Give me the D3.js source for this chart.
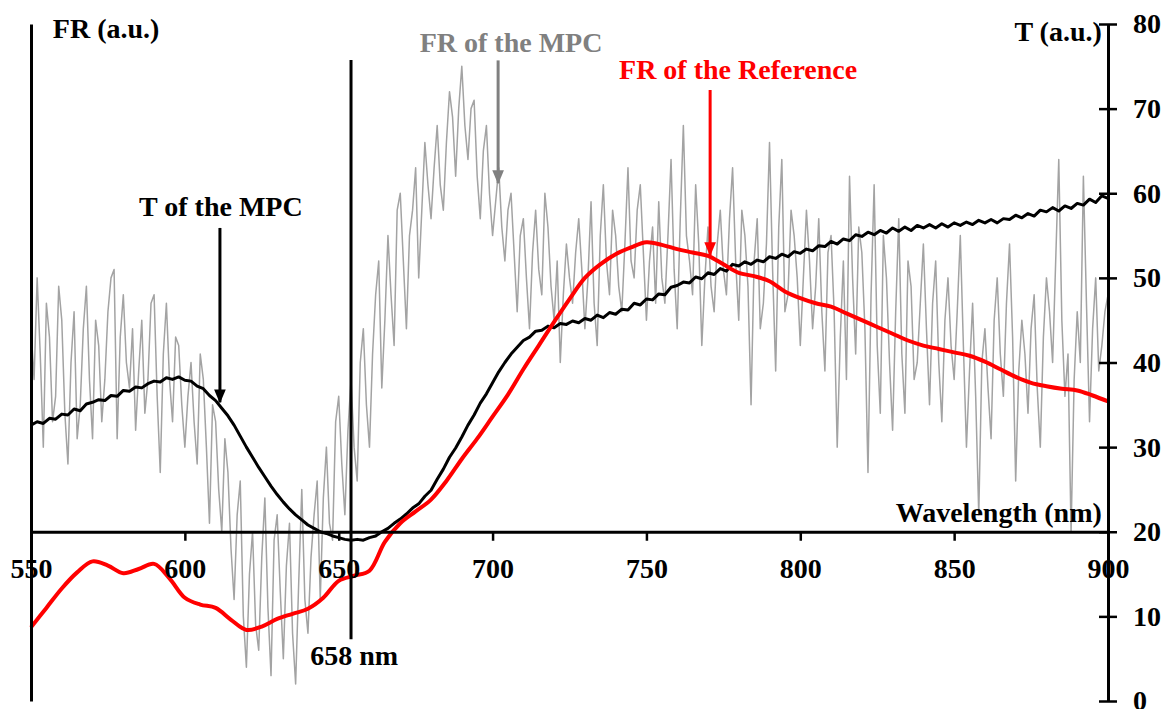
<!DOCTYPE html>
<html>
<head>
<meta charset="utf-8">
<script src="https://cdn.jsdelivr.net/npm/d3@7"></script>
<style>
  html, body { margin: 0; padding: 0; background: #fff; }
  svg { display: block; font-family: "Liberation Serif", "Times New Roman", serif; font-weight: bold; }
</style>
</head>
<body>
<div id="chart"></div>
<script>
// FR / T spectra of the MPC vs reference

// --- data ---
// FR of the MPC, every 1 nm from 550 to 900 (left axis, a.u.), one row per 10 nm
const FR_MPC_NM = d3.range(550, 901, 1);
const FR_MPC = [
  44, 38, 50, 41, 30, 47, 43, 33, 36, 49,
  45, 34, 28, 40, 46, 31, 35, 44, 49, 38,
  31, 45, 42, 33, 38, 46, 50, 51, 31, 43,
  48, 40, 37, 44, 32, 39, 45, 34, 38, 47,
  48, 36, 27, 41, 47, 38, 33, 43, 42, 35,
  30, 36, 40, 33, 28, 41, 38, 30, 21, 35,
  33, 25, 20, 31, 27, 18, 12, 22, 26, 10,
  4, 15, 20, 9, 6, 17, 24, 11, 3, 19,
  22, 13, 5, 16, 21, 8, 2, 14, 25, 12,
  8, 17, 22, 26, 12, 24, 30, 21, 19, 33,
  36, 28, 22, 32, 38, 30, 26, 40, 44, 35,
  30, 41, 48, 52, 37, 45, 55, 48, 42, 58,
  60, 52, 44, 55, 58, 63, 50, 58, 66, 61,
  57, 63, 68, 61, 58, 66, 72, 69, 62, 70,
  75, 68, 64, 70, 71, 62, 57, 65, 68, 60,
  55, 59, 63, 56, 52, 58, 60, 53, 46, 55,
  57, 50, 44, 53, 58, 51, 48, 60, 56, 49,
  45, 52, 40, 48, 54, 50, 47, 53, 57, 51,
  44, 50, 59, 47, 42, 55, 61, 52, 48, 58,
  55, 49, 46, 54, 63, 52, 50, 58, 61, 53,
  45, 52, 56, 47, 59, 50, 47, 55, 64, 51,
  44, 57, 68, 55, 52, 48, 61, 54, 42, 50,
  56, 49, 46, 54, 58, 51, 48, 57, 63, 52,
  45, 58, 55, 49, 35, 52, 57, 44, 47, 54,
  66, 51, 39, 56, 64, 46, 48, 58, 55, 50,
  42, 50, 58, 52, 44, 49, 57, 46, 39, 53,
  55, 46, 30, 43, 52, 38, 62, 50, 41, 56,
  53, 44, 27, 48, 61, 42, 34, 55, 50, 40,
  32, 46, 57, 41, 34, 52, 49, 38, 40, 47,
  54, 44, 35, 47, 52, 40, 33, 45, 50, 42,
  38, 46, 55, 42, 30, 39, 47, 36, 22, 40,
  44, 37, 31, 45, 50, 41, 36, 47, 54, 43,
  26, 39, 45, 41, 34, 44, 48, 37, 30, 43,
  50, 46, 40, 52, 64, 45, 36, 41, 20, 38,
  46, 40, 62, 47, 33, 44, 50, 39, 42, 46,
  48
];

// T of the MPC, every 2 nm (right axis), one row per 20 nm
const T_NM = d3.range(550, 901, 2);
const T_MPC = [
  32.6, 33.0, 32.8, 33.4, 33.3, 33.9, 33.8, 34.5, 34.3, 35.1,
  35.3, 35.6, 35.5, 36.1, 36.0, 36.7, 36.6, 37.1, 37.0, 37.5,
  37.8, 37.7, 38.2, 38.0, 38.3, 37.9, 37.8, 37.2, 36.9, 36.1,
  35.5, 34.6, 33.7, 32.6, 31.3, 30.0, 28.8, 27.6, 26.5, 25.4,
  24.4, 23.5, 22.7, 22.0, 21.4, 20.8, 20.4, 20.0, 19.8, 19.5,
  19.3, 19.1, 19.0, 19.1, 19.0, 19.3, 19.5, 20.0, 20.4, 21.0,
  21.5, 22.1, 22.8, 23.3, 24.2, 24.9, 26.2, 27.4, 28.8, 29.9,
  31.2, 32.6, 33.8, 35.2, 36.3, 37.6, 38.9, 40.0, 41.0, 41.8,
  42.6, 43.0, 43.7, 43.8, 44.3, 44.1, 44.6, 44.5, 44.9, 44.7,
  45.2, 45.0, 45.6, 45.3, 45.9, 45.7, 46.3, 46.2, 47.0, 46.8,
  47.5, 47.4, 48.1, 48.0, 48.9, 49.1, 49.5, 49.4, 50.1, 49.9,
  50.6, 50.4, 51.1, 50.8, 51.6, 51.4, 51.9, 51.6, 52.1, 51.9,
  52.5, 52.3, 52.8, 52.5, 53.1, 52.9, 53.4, 53.2, 53.8, 53.7,
  54.3, 54.0, 54.6, 54.4, 55.1, 54.9, 55.4, 55.1, 55.6, 55.3,
  55.9, 55.5, 56.0, 55.6, 56.2, 55.9, 56.3, 55.9, 56.4, 56.0,
  56.5, 56.2, 56.6, 56.3, 56.8, 56.5, 56.9, 56.5, 57.0, 56.9,
  57.4, 57.1, 57.6, 57.3, 58.0, 57.8, 58.3, 57.9, 58.5, 58.2,
  58.8, 58.6, 59.3, 58.9, 59.7, 59.4
];

// FR of the reference, every 5 nm (left axis)
const REF_NM = d3.range(550, 901, 5);
const FR_REF = [
  8.7, 11.0, 13.3, 15.2, 16.5, 16.0, 15.1, 15.6, 16.2, 14.5,
  12.2, 11.4, 11.0, 9.6, 8.4, 8.8, 9.7, 10.3, 10.9, 12.2,
  14.2, 14.8, 15.4, 18.8, 21.0, 22.4, 23.8, 26.0, 28.6, 31.0,
  33.6, 36.2, 39.2, 42.0, 44.8, 47.5, 50.0, 51.6, 52.8, 53.6,
  54.2, 53.9, 53.4, 53.0, 52.6, 51.6, 50.6, 50.2, 49.6, 48.4,
  47.6, 47.0, 46.6, 45.8, 45.0, 44.2, 43.4, 42.6, 42.0, 41.6,
  41.2, 40.8, 40.1, 39.2, 38.3, 37.6, 37.2, 36.9, 36.7, 36.1,
  35.4
];

const X_TICKS = [550, 600, 650, 700, 750, 800, 850, 900];
const T_TICKS = [0, 10, 20, 30, 40, 50, 60, 70, 80];
const X_AXIS_AT = 20;          // wavelength axis crosses T = 20
const MARK_NM = 654;           // drawn position of the "658 nm" line

// annotation placement (data units)
const LABELS = [
  { text: 'FR (a.u.)',           nm: 557.1, v: 78.3, anchor: 'start',  color: '#000' },
  { text: 'T (a.u.)',            nm: 898,   v: 78.0, anchor: 'end',    color: '#000' },
  { text: 'T of the MPC',        nm: 611.7, v: 57.3, anchor: 'middle', color: '#000' },
  { text: 'FR of the MPC',       nm: 706,   v: 76.7, anchor: 'middle', color: '#808080' },
  { text: 'FR of the Reference', nm: 779.8, v: 73.5, anchor: 'middle', color: '#ff0000' },
  { text: 'Wavelength (nm)',     nm: 898,   v: 21.2, anchor: 'end',    color: '#000' },
  { text: '658 nm',              nm: 655,   v: 4.3,  anchor: 'middle', color: '#000' },
];
const ARROWS = [
  { id: 'k', nm: 611.4, from: 55.9, to: 35.3, color: '#000' },
  { id: 'g', nm: 701.8, from: 75.7, to: 61.2, color: '#808080' },
  { id: 'r', nm: 770.7, from: 72.2, to: 52.7, color: '#ff0000' },
];

// --- layout ---
const W = 1170, H = 709;
const M = { top: 24, right: 62, bottom: 8, left: 31 };

const svg = d3.select('#chart').append('svg')
  .attr('width', W).attr('height', H)
  .attr('viewBox', `0 0 ${W} ${H}`);

svg.append('rect').attr('width', W).attr('height', H).attr('fill', '#fff');

const x = d3.scaleLinear().domain([550, 900]).range([M.left, W - M.right]);
const y = d3.scaleLinear().domain([0, 80]).range([H - M.bottom, M.top]);     // T (right)
const yFR = d3.scaleLinear().domain([0, 80]).range([H - M.bottom, M.top]);   // FR (left, unlabelled)

// arrow heads
const defs = svg.append('defs');
ARROWS.forEach(a => {
  defs.append('marker')
    .attr('id', 'head-' + a.id)
    .attr('markerUnits', 'userSpaceOnUse')
    .attr('viewBox', '0 0 12 10')
    .attr('markerWidth', 14).attr('markerHeight', 13)
    .attr('refX', 11).attr('refY', 5)
    .attr('orient', 'auto')
    .append('path').attr('d', 'M0,0 L12,5 L0,10 Z').attr('fill', a.color);
});

// --- series ---
const frMpcLine = d3.line().x((d, i) => x(FR_MPC_NM[i])).y(d => yFR(d));
svg.append('path').datum(FR_MPC)
  .attr('fill', 'none').attr('stroke', '#a3a3a3').attr('stroke-width', 1.5)
  .attr('stroke-linejoin', 'round')
  .attr('d', frMpcLine);

const tLine = d3.line().x((d, i) => x(T_NM[i])).y(d => y(d));
svg.append('path').datum(T_MPC)
  .attr('fill', 'none').attr('stroke', '#000').attr('stroke-width', 3)
  .attr('stroke-linejoin', 'round')
  .attr('d', tLine);

const refLine = d3.line().curve(d3.curveCatmullRom)
  .x((d, i) => x(REF_NM[i])).y(d => yFR(d));
svg.append('path').datum(FR_REF)
  .attr('fill', 'none').attr('stroke', '#ff0000').attr('stroke-width', 4)
  .attr('d', refLine);

// --- axes ---
const styleAxis = g => {
  g.selectAll('path.domain').attr('stroke', '#000').attr('stroke-width', 3);
  g.selectAll('.tick line').attr('stroke', '#000').attr('stroke-width', 2.5);
  g.selectAll('.tick text')
    .attr('fill', '#000').attr('font-size', 28).attr('font-weight', 'bold')
    .attr('font-family', '"Liberation Serif", "Times New Roman", serif');
};

svg.append('g').attr('transform', `translate(${M.left},0)`)
  .call(d3.axisLeft(yFR).tickValues([]).tickSizeOuter(0))
  .call(styleAxis);

svg.append('g').attr('transform', `translate(0,${y(X_AXIS_AT)})`)
  .call(d3.axisBottom(x).tickValues(X_TICKS).tickSize(9).tickSizeOuter(0).tickPadding(17))
  .call(styleAxis);

const gy = svg.append('g').attr('transform', `translate(${W - M.right},0)`)
  .call(d3.axisRight(y).tickValues(T_TICKS).tickSize(9).tickSizeOuter(0).tickPadding(16))
  .call(styleAxis);
gy.selectAll('.tick line').attr('x1', -9);

// 658 nm marker
svg.append('line')
  .attr('x1', x(MARK_NM)).attr('x2', x(MARK_NM))
  .attr('y1', y(75.75)).attr('y2', y(7.3))
  .attr('stroke', '#000').attr('stroke-width', 3);

// --- annotations ---
svg.append('g').selectAll('line').data(ARROWS).join('line')
  .attr('x1', d => x(d.nm)).attr('x2', d => x(d.nm))
  .attr('y1', d => y(d.from)).attr('y2', d => y(d.to))
  .attr('stroke', d => d.color).attr('stroke-width', 3)
  .attr('marker-end', d => `url(#head-${d.id})`);

svg.append('g').selectAll('text').data(LABELS).join('text')
  .attr('x', d => x(d.nm)).attr('y', d => y(d.v))
  .attr('text-anchor', d => d.anchor)
  .attr('font-size', 28)
  .attr('fill', d => d.color)
  .text(d => d.text);
</script>
</body>
</html>
